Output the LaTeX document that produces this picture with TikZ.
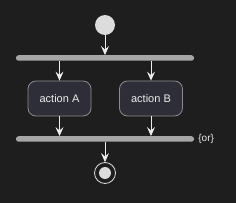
\documentclass[tikz,border=0pt]{standalone}
\usepackage{fontspec}
\setmainfont{Liberation Sans}
\usetikzlibrary{arrows.meta,positioning,calc}
\definecolor{umlbg}{HTML}{1E1E1E}
\definecolor{barcol}{HTML}{A6A6A6}
\definecolor{actfill}{HTML}{2E2E38}
\definecolor{actline}{HTML}{8C8C8C}
\definecolor{ink}{HTML}{EDEDED}
\tikzset{
  actbox/.style={draw=actline, line width=0.8pt, fill=actfill, rounded corners=8pt,
                 minimum width=63pt, minimum height=35pt, inner sep=0pt,
                 text=ink, font=\fontsize{11}{13}\selectfont},
  syncbar/.style={fill=barcol, rounded corners=2.5pt, minimum width=178pt,
                  minimum height=5.5pt, inner sep=0pt},
  flow/.style={-{Stealth[length=9pt, width=8pt, inset=3.5pt]}, line width=0.8pt, color=ink}}
\begin{document}
\begin{tikzpicture}[x=1pt, y=-1pt]
        \fill[umlbg] (0,0) rectangle (236,203);
        \useasboundingbox (0,0) rectangle (236,203);
        \node[circle, fill=ink!92!umlbg, minimum size=20pt, inner sep=0pt] (start) at (105,25) {};
        \node[syncbar] (fork) at (105,58) {};
        \node[actbox] (actA) at (59.5,98.5) {action A};
        \node[actbox] (actB) at (151,98.5) {action B};
        \node[syncbar] (join) at (105,139) {};
        \node[font=\fontsize{10}{12}\selectfont, text=ink, right=3pt of join.east, inner sep=1pt] (orlbl) {\{or\}};
        % end point: ring with a dot
        \node[circle, draw=ink!92!umlbg, line width=0.8pt, minimum size=21pt, inner sep=0pt] (stop) at (105,173) {};
        \node[circle, fill=ink!92!umlbg, minimum size=12pt, inner sep=0pt] (stopdot) at (stop) {};
        \draw[flow] (start) -- (fork);
        \draw[flow] (fork.south -| actA.north) -- (actA);
        \draw[flow] (fork.south -| actB.north) -- (actB);
        \draw[flow] (actA) -- (join.north -| actA.south);
        \draw[flow] (actB) -- (join.north -| actB.south);
        \draw[flow] (join) -- (stop);
      \end{tikzpicture}
\end{document}
